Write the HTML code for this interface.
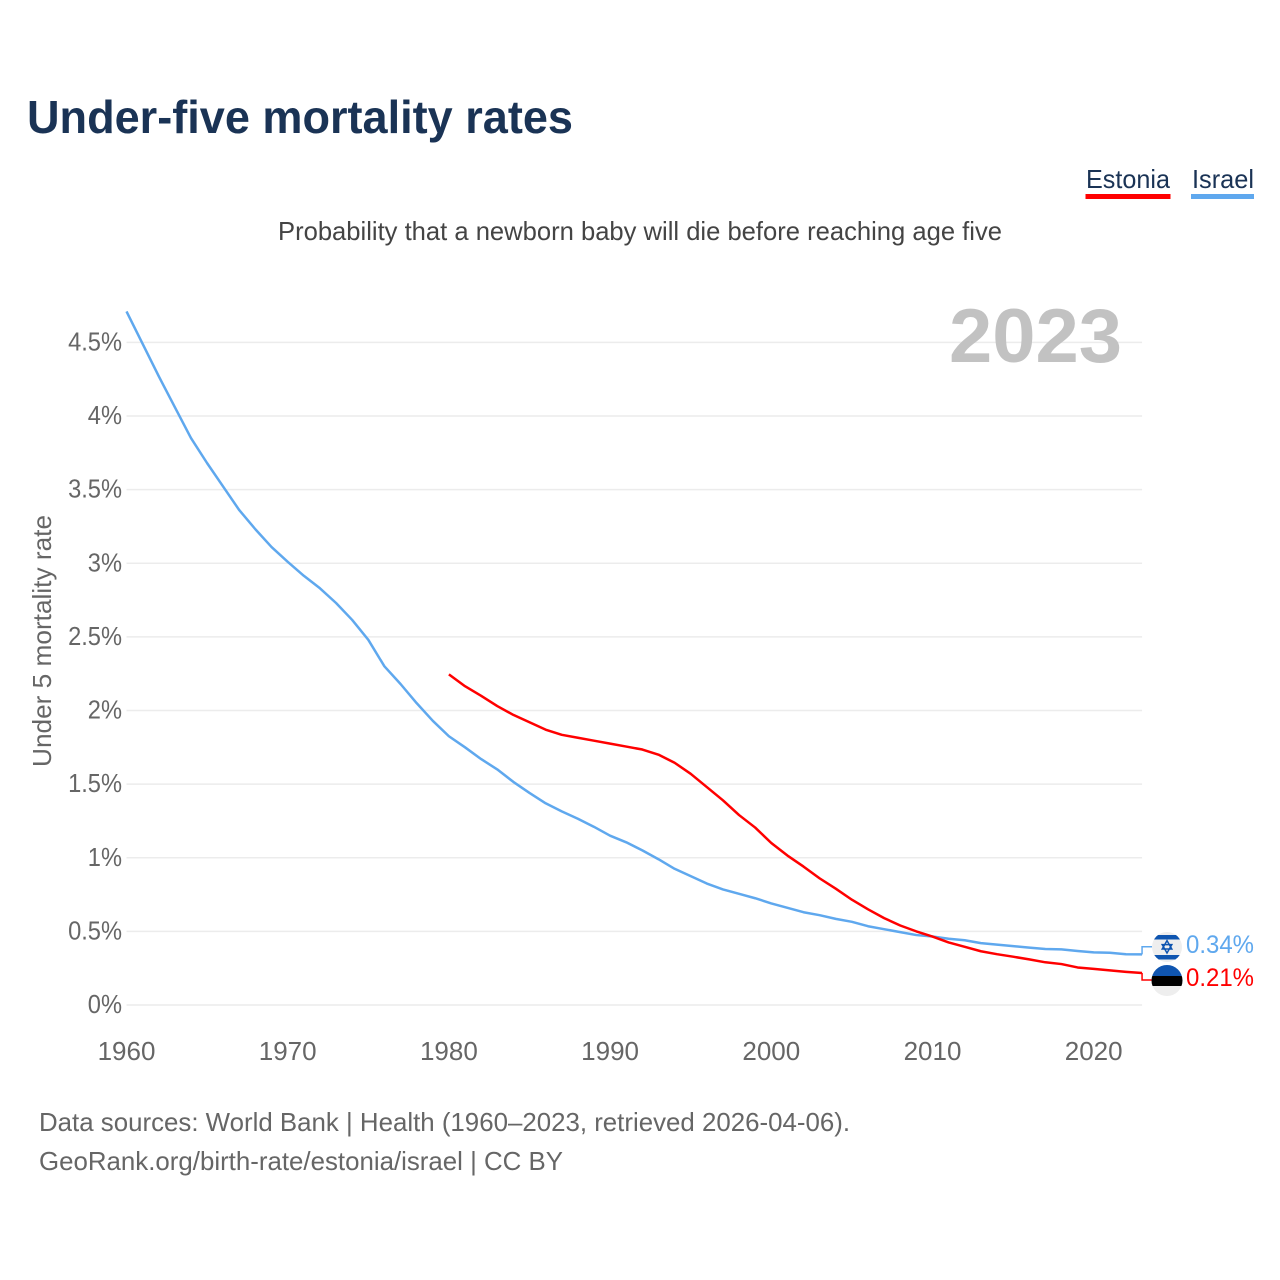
<!DOCTYPE html>
<html lang="en">
<head>
<meta charset="utf-8">
<title>Under-five mortality rates</title>
<style>
html,body{margin:0;padding:0;background:#fff;}
svg{display:block;}
text{font-family:"Liberation Sans",sans-serif;}
</style>
</head>
<body>
<svg id="chart" xmlns="http://www.w3.org/2000/svg" width="1280" height="1280" viewBox="0 0 1280 1280">
  <rect x="0" y="0" width="1280" height="1280" fill="#fff"/>
  <text x="27" y="133" font-size="46" font-weight="700" fill="#1a3355" textLength="546" lengthAdjust="spacingAndGlyphs">Under-five mortality rates</text>
  <text x="278" y="240" font-size="26" fill="#444" textLength="724" lengthAdjust="spacingAndGlyphs">Probability that a newborn baby will die before reaching age five</text>

  <g>
    <g>
      <text x="1086" y="188" font-size="26" fill="#1a3355" textLength="84" lengthAdjust="spacingAndGlyphs">Estonia</text>
      <rect x="1085.5" y="194" width="85" height="5" fill="#ff0000"/>
    </g>
    <g>
      <text x="1192" y="188" font-size="26" fill="#1a3355" textLength="62" lengthAdjust="spacingAndGlyphs">Israel</text>
      <rect x="1191" y="194" width="63" height="5" fill="#5fa8ee"/>
    </g>
  </g>

  <g id="grid"></g>
  <g id="y-ticks"></g>
  <g id="x-ticks"></g>

  <text transform="translate(51 641) rotate(-90)" text-anchor="middle" font-size="26" fill="#666" textLength="252" lengthAdjust="spacingAndGlyphs">Under 5 mortality rate</text>

  <text id="year-label" x="949" y="362" font-size="76" font-weight="700" fill="#c2c2c2" textLength="173" lengthAdjust="spacingAndGlyphs">2023</text>

  <g id="series"></g>

  <g>
    <clipPath id="clip-il"><circle cx="1167" cy="947" r="15"/></clipPath>
    <g clip-path="url(#clip-il)">
      <rect x="1152" y="932" width="30" height="30" fill="#eeeeee"/>
      <rect x="1152" y="935" width="30" height="4.5" fill="#0f55b0"/>
      <rect x="1152" y="955" width="30" height="4.5" fill="#0f55b0"/>
      <path d="M1167 940.6l4.8 8.4h-9.6zM1167 953l-4.8-8.4h9.6z" fill="none" stroke="#0f55b0" stroke-width="1.5"/>
    </g>
  </g>
  <g>
    <clipPath id="clip-ee"><circle cx="1167" cy="980.5" r="15.5"/></clipPath>
    <g clip-path="url(#clip-ee)">
      <rect x="1151" y="965" width="32" height="31" fill="#eeeeee"/>
      <rect x="1151" y="965" width="32" height="11" fill="#0f55b0"/>
      <rect x="1151" y="976" width="32" height="10" fill="#000000"/>
    </g>
  </g>

  <text x="1186" y="953" font-size="25" fill="#5fa8ee" textLength="68" lengthAdjust="spacingAndGlyphs">0.34%</text>
  <text x="1186" y="986" font-size="25" fill="#ff0000" textLength="68" lengthAdjust="spacingAndGlyphs">0.21%</text>

  <text x="39" y="1131" font-size="26" fill="#666" textLength="811" lengthAdjust="spacingAndGlyphs">Data sources: World Bank | Health (1960–2023, retrieved 2026-04-06).</text>
  <text x="39" y="1170" font-size="26" fill="#666" textLength="524" lengthAdjust="spacingAndGlyphs">GeoRank.org/birth-rate/estonia/israel | CC BY</text>
</svg>
<script>
const yTickValues = [0, 0.5, 1, 1.5, 2, 2.5, 3, 3.5, 4, 4.5];
const yTickLabels = ['0%', '0.5%', '1%', '1.5%', '2%', '2.5%', '3%', '3.5%', '4%', '4.5%'];
const xTickYears = [1960, 1970, 1980, 1990, 2000, 2010, 2020];
const israelStartYear = 1960;
const israelValues = [4.71, 4.49, 4.27, 4.06, 3.85, 3.68, 3.52, 3.36, 3.23, 3.11,
  3.01, 2.915, 2.83, 2.73, 2.615, 2.48, 2.30, 2.18, 2.05, 1.93,
  1.825, 1.75, 1.67, 1.60, 1.515, 1.44, 1.37, 1.315, 1.265, 1.21,
  1.15, 1.105, 1.05, 0.99, 0.925, 0.875, 0.825, 0.785, 0.755, 0.725,
  0.69, 0.66, 0.63, 0.61, 0.585, 0.565, 0.535, 0.515, 0.495, 0.475,
  0.465, 0.45, 0.44, 0.42, 0.41, 0.40, 0.39, 0.38, 0.378, 0.367,
  0.357, 0.355, 0.345, 0.344];
const estoniaStartYear = 1980;
const estoniaValues = [2.245, 2.165, 2.10, 2.03, 1.97, 1.92, 1.87, 1.835, 1.815, 1.795,
  1.775, 1.755, 1.735, 1.70, 1.645, 1.57, 1.48, 1.39, 1.29, 1.205,
  1.10, 1.015, 0.94, 0.86, 0.79, 0.715, 0.65, 0.59, 0.54, 0.50,
  0.465, 0.425, 0.395, 0.365, 0.345, 0.328, 0.31, 0.29, 0.278, 0.255,
  0.245, 0.235, 0.225, 0.217];

const SVG_NS = 'http://www.w3.org/2000/svg';
const xScale = function (year) { return 126.5 + (year - 1960) * 16.12; };
const yScale = function (value) { return 1005 - value * 147.25; };
const plotLeft = xScale(1960);
const plotRight = xScale(2023);

const gridGroup = document.getElementById('grid');
const yTickGroup = document.getElementById('y-ticks');
const xTickGroup = document.getElementById('x-ticks');
const seriesGroup = document.getElementById('series');

yTickValues.forEach(function (value, i) {
  const line = document.createElementNS(SVG_NS, 'line');
  
  
  line.setAttribute('x1', plotLeft);
  line.setAttribute('x2', plotRight);
  line.setAttribute('y1', yScale(value));
  line.setAttribute('y2', yScale(value));
  line.setAttribute('stroke', '#ececec');
  line.setAttribute('stroke-width', '1.5');
  gridGroup.appendChild(line);

  const label = document.createElementNS(SVG_NS, 'text');
  
  
  label.setAttribute('y', yScale(value) + 8);
  label.setAttribute('font-size', '26');
  label.setAttribute('fill', '#666');
  label.textContent = yTickLabels[i];
  yTickGroup.appendChild(label);
  const fitted = label.getComputedTextLength() * 0.91;
  label.setAttribute('textLength', fitted);
  label.setAttribute('lengthAdjust', 'spacingAndGlyphs');
  label.setAttribute('x', 122 - fitted);
});

xTickYears.forEach(function (year) {
  const label = document.createElementNS(SVG_NS, 'text');
  
  
  label.setAttribute('x', xScale(year));
  label.setAttribute('y', 1060);
  label.setAttribute('font-size', '26');
  label.setAttribute('fill', '#666');
  label.setAttribute('text-anchor', 'middle');
  label.textContent = String(year);
  xTickGroup.appendChild(label);
});

function drawSeries(startYear, values, color, name) {
  const points = values.map(function (v, i) {
    return xScale(startYear + i).toFixed(2) + ',' + yScale(v).toFixed(2);
  });
  const path = document.createElementNS(SVG_NS, 'polyline');
  
  
  path.setAttribute('points', points.join(' '));
  path.setAttribute('fill', 'none');
  path.setAttribute('stroke', color);
  path.setAttribute('stroke-width', '2.5');
  path.setAttribute('stroke-linejoin', 'round');
  seriesGroup.appendChild(path);
}

function drawConnector(lastValue, targetY, color, name) {
  const y0 = yScale(lastValue);
  const link = document.createElementNS(SVG_NS, 'polyline');
  
  
  link.setAttribute('points', plotRight + ',' + y0 + ' ' + plotRight + ',' + targetY + ' 1152,' + targetY);
  link.setAttribute('fill', 'none');
  link.setAttribute('stroke', color);
  link.setAttribute('stroke-width', '1.5');
  seriesGroup.appendChild(link);
}

drawSeries(israelStartYear, israelValues, '#5fa8ee', 'line-israel');
drawSeries(estoniaStartYear, estoniaValues, '#ff0000', 'line-estonia');
drawConnector(israelValues[israelValues.length - 1], 946.7, '#5fa8ee', 'connector-israel');
drawConnector(estoniaValues[estoniaValues.length - 1], 980, '#ff0000', 'connector-estonia');
</script>
</body>
</html>
